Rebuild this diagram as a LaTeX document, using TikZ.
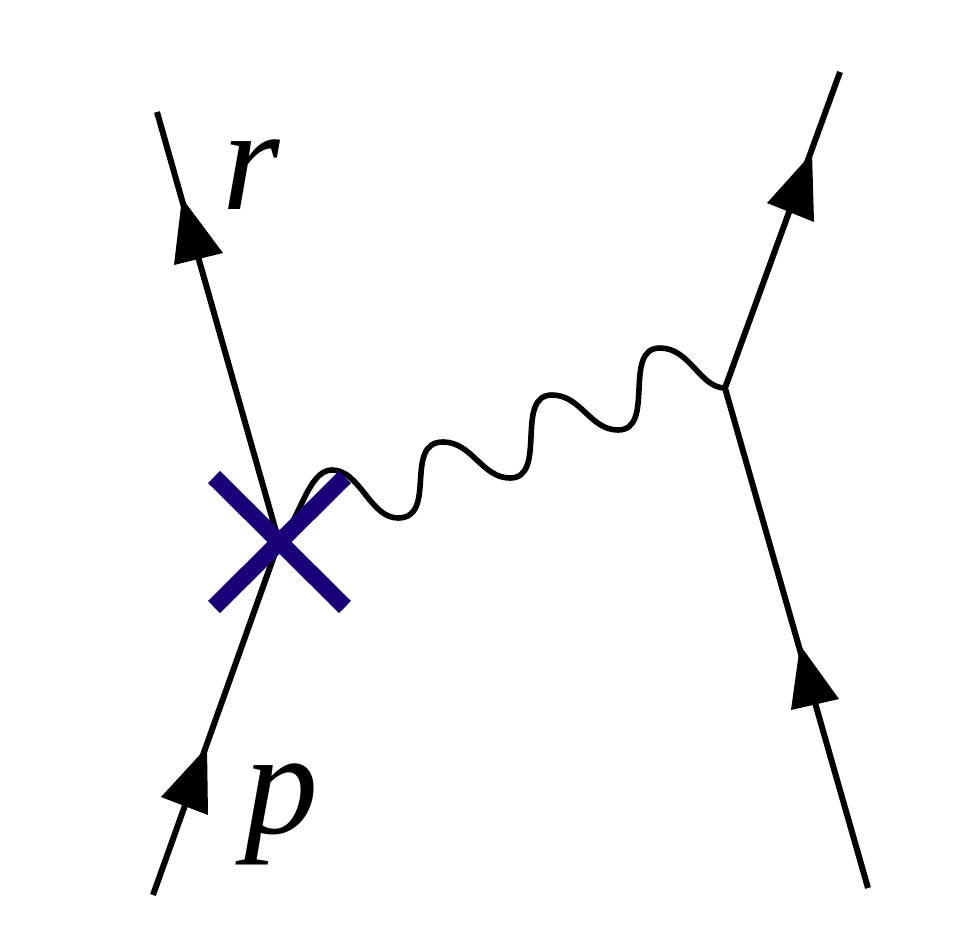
\documentclass[tikz,border=0pt]{standalone}
\usepackage{fontspec}
\setmainfont{Liberation Serif}
\definecolor{xblue}{RGB}{26,0,120}
\tikzset{
  fermion/.style={line width=6pt, black},
  photon/.style={line width=5.6pt, black},
  arrowtri/.style={fill=black, draw=none},
  cross/.style={line width=17pt, xblue},
  lab/.style={inner sep=0pt, font=\fontsize{148}{148}\selectfont\itshape}
}
\begin{document}
\begin{tikzpicture}[x=1pt,y=-1pt]
\useasboundingbox (0,0) rectangle (958,929);
% vertices and ends
\coordinate (vL) at (279,542);
\coordinate (vR) at (725,388);
\coordinate (a1) at (153,895);
\coordinate (a2) at (157,112);
\coordinate (b1) at (868,888);
\coordinate (b2) at (840,72);
% fermion lines
\draw[fermion] (a1) -- (vL) -- (a2);
\draw[fermion] (b1) -- (vR) -- (b2);
% photon
\draw[photon] (vL) .. controls (300,520) and (308,470) .. (332,470)
  .. controls (360,470) and (370,518) .. (398,518)
  .. controls (438,518) and (403,442) .. (443,442)
  .. controls (472,442) and (482,478) .. (510,478)
  .. controls (548,478) and (514,395) .. (552,395)
  .. controls (581,395) and (590,430) .. (618,430)
  .. controls (656,430) and (622,348) .. (660,348)
  .. controls (690,348) and (700,388) .. (vR);
% arrowheads
\fill[arrowtri] (207,747) -- (161,797) -- (208,815) -- cycle;
\fill[arrowtri] (182,198) -- (174,265) -- (223,253) -- cycle;
\fill[arrowtri] (812,153) -- (767,203) -- (814,222) -- cycle;
\fill[arrowtri] (800,645) -- (791,710) -- (839,699) -- cycle;
% cross
\coordinate (x1) at (214,477);
\coordinate (x2) at (345,607);
\coordinate (x3) at (214,607);
\coordinate (x4) at (345,477);
\draw[cross] (x1) -- (x2);
\draw[cross] (x3) -- (x4);
% labels
\node[lab] (r) at (251,175) {r};
\node[lab] (p) at (281,814) {p};
\end{tikzpicture}
\end{document}
